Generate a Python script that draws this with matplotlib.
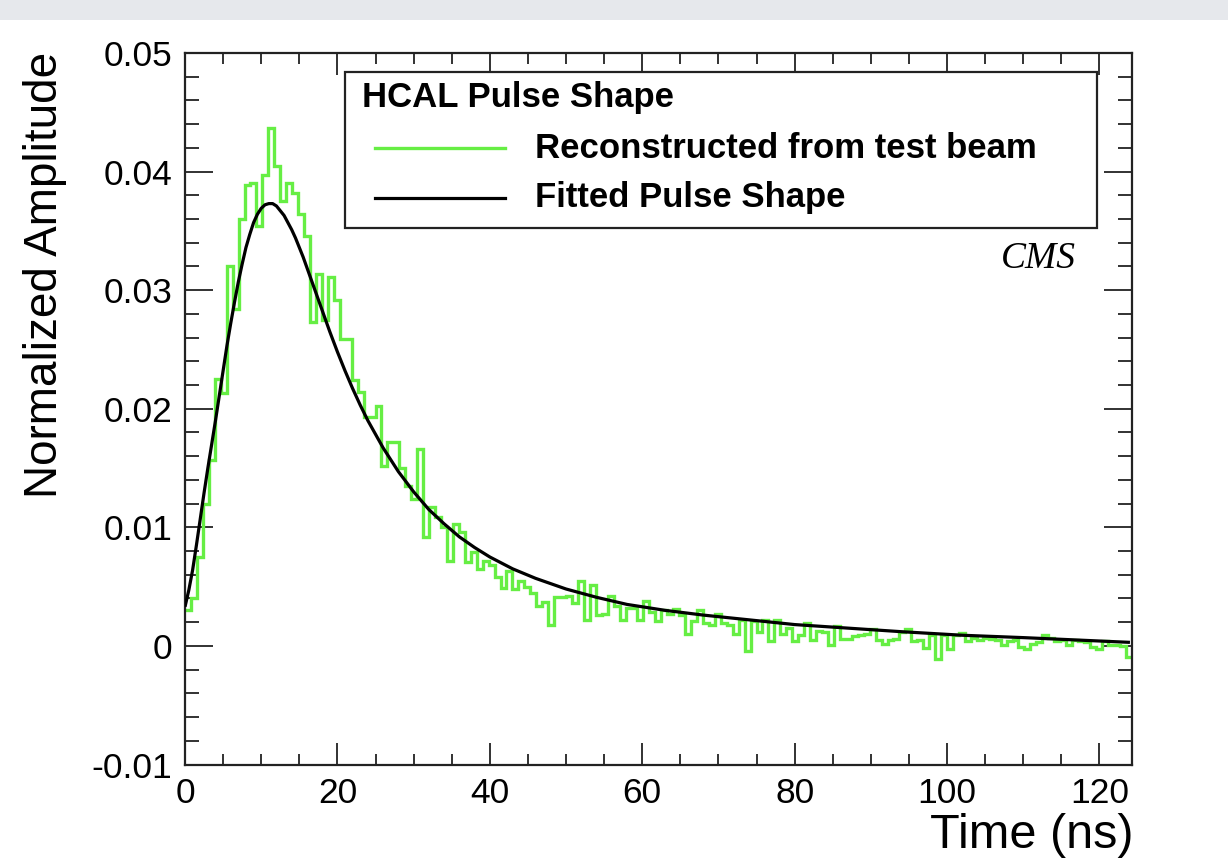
import matplotlib
matplotlib.use("Agg")
import matplotlib.pyplot as plt
import numpy as np
from matplotlib.patches import Rectangle
from matplotlib.lines import Line2D
from matplotlib.ticker import FixedLocator, FixedFormatter, MultipleLocator

# ---------------- data ----------------
BIN_WIDTH = 25.0 / 32.0   # ns

hist_values = [
    0.0030, 0.0040, 0.0075, 0.0120, 0.0157, 0.0225, 0.0213, 0.0320, 0.0284, 0.0360,
    0.0389, 0.0390, 0.0354, 0.0397, 0.0437, 0.0405, 0.0375, 0.0390, 0.0382, 0.0364,
    0.0346, 0.0273, 0.0314, 0.0275, 0.0311, 0.0292, 0.0259, 0.0259, 0.0224, 0.0214,
    0.0193, 0.0193, 0.0202, 0.0152, 0.0172, 0.0172, 0.0150, 0.0135, 0.0124, 0.0166,
    0.0092, 0.0117, 0.0109, 0.0100, 0.0072, 0.0103, 0.0096, 0.0071, 0.0079, 0.0065,
    0.0072, 0.0068, 0.0058, 0.0049, 0.0063, 0.0048, 0.0055, 0.0050, 0.0045, 0.0034,
    0.0037, 0.0018, 0.0041, 0.0041, 0.0042, 0.0036, 0.0055, 0.0022, 0.0051, 0.0026,
    0.0027, 0.0042, 0.0034, 0.0022, 0.0032, 0.0032, 0.0022, 0.0038, 0.0029, 0.0021,
    0.0030, 0.0027, 0.0031, 0.0026, 0.0010, 0.0021, 0.0030, 0.0019, 0.0018, 0.0027,
    0.0019, 0.0018, 0.0010, 0.0022, -0.0004, 0.0021, 0.0012, 0.0022, 0.0004, 0.0022,
    0.0010, 0.0015, 0.0004, 0.0009, 0.0019, 0.0005, 0.0013, 0.0012, 0.0001, 0.0017,
    0.0006, 0.0006, 0.0008, 0.0009, 0.0010, 0.0014, 0.0005, 0.0002, 0.0005, 0.0006,
    0.0012, 0.0014, 0.0004, 0.0005, -0.0002, 0.0009, -0.0011, 0.0009, -0.0003, 0.0009,
    0.0011, 0.0004, 0.0007, 0.0005, 0.0007, 0.0006, 0.0005, 0.0001, 0.0004, 0.0005,
    -0.0001, -0.0003, 0.0002, 0.0003, 0.0009, 0.0007, 0.0004, 0.0005, 0.0001, 0.0005,
    0.0004, 0.0003, -0.0001, -0.0003, 0.0004, 0.0001, 0.0001, 0.0000, -0.0009,
]

fit_t = [0, 0.5, 1, 1.5, 2, 2.5, 3, 3.5, 4, 4.5,
         5, 5.5, 6, 6.5, 7, 7.5, 8, 8.5, 9, 9.5,
         10, 10.5, 11, 11.5, 12, 12.5, 13, 13.5, 14, 14.5,
         15, 15.5, 16, 17, 18, 19, 20, 21, 22, 23,
         24, 26, 28, 30, 32, 34, 36, 38, 40, 43,
         46, 50, 54, 58, 63, 68, 74, 80, 87, 94,
         102, 110, 117, 124]
fit_v = [0.0033, 0.0047, 0.0064, 0.0085, 0.0107, 0.0129, 0.0150, 0.0170, 0.0190, 0.0211,
         0.0232, 0.0253, 0.0272, 0.0290, 0.0307, 0.0322, 0.0336, 0.0347, 0.0357, 0.0364,
         0.0369, 0.0372, 0.0373, 0.0373, 0.0371, 0.0367, 0.0363, 0.0357, 0.0351, 0.0344,
         0.0336, 0.0328, 0.0319, 0.0301, 0.0283, 0.0265, 0.0248, 0.0232, 0.0217, 0.0203,
         0.0190, 0.0167, 0.0147, 0.0130, 0.0115, 0.0103, 0.0092, 0.0083, 0.0075, 0.0065,
         0.0057, 0.0048, 0.0041, 0.0035, 0.0030, 0.0026, 0.0022, 0.0018, 0.0015, 0.0012,
         0.0009, 0.0007, 0.0005, 0.0003]

x_major = [0, 20, 40, 60, 80, 100, 120]
x_labels = ["0", "20", "40", "60", "80", "100", "120"]
y_major = [-0.01, 0.0, 0.01, 0.02, 0.03, 0.04, 0.05]
y_labels = ["-0.01", "0", "0.01", "0.02", "0.03", "0.04", "0.05"]

legend_title = "HCAL Pulse Shape"
label_hist = "Reconstructed from test beam"
label_fit = "Fitted Pulse Shape"
x_title = "Time (ns)"
y_title = "Normalized Amplitude"
tag = "CMS"

GREEN = "#66ee44"
W, H = 1228, 860

# ---------------- figure ----------------
fig = plt.figure(figsize=(W / 100, H / 100), dpi=100)
fig.patches.append(Rectangle((0, 1 - 20 / H), 1, 20 / H, transform=fig.transFigure,
                             facecolor="#e6e8ec", edgecolor="none", zorder=0))

L, R, T, B = 185, 1131.6, 53, 764.5
ax = fig.add_axes([L / W, 1 - B / H, (R - L) / W, (B - T) / H])

n = len(hist_values)
edges = np.arange(n + 1) * BIN_WIDTH
ax.stairs(hist_values, edges, baseline=None, color=GREEN, lw=2.4, zorder=2)
ax.plot(fit_t, fit_v, color="black", lw=2.3, zorder=3, solid_capstyle="butt",
        solid_joinstyle="round")

ax.set_xlim(0, n * BIN_WIDTH)
ax.set_ylim(-0.01, 0.05)

ax.xaxis.set_major_locator(FixedLocator(x_major))
ax.xaxis.set_major_formatter(FixedFormatter(x_labels))
ax.xaxis.set_minor_locator(MultipleLocator(5))
ax.yaxis.set_major_locator(FixedLocator(y_major))
ax.yaxis.set_major_formatter(FixedFormatter(y_labels))
ax.yaxis.set_minor_locator(MultipleLocator(0.002))

ax.tick_params(which="both", direction="in", top=True, right=True,
               width=1.3, color="#222222")
ax.xaxis.set_tick_params(which="major", length=16, pad=9)
ax.xaxis.set_tick_params(which="minor", length=8)
ax.yaxis.set_tick_params(which="major", length=20, pad=9)
ax.yaxis.set_tick_params(which="minor", length=10)
for lab in ax.get_xticklabels() + ax.get_yticklabels():
    lab.set_fontfamily("Liberation Sans")
    lab.set_fontsize(25.5)
for sp in ax.spines.values():
    sp.set_linewidth(1.6)
    sp.set_color("#222222")

# axis titles
fig.text(45 / W, 1 - 275 / H, y_title, rotation=90, ha="center", va="center",
         fontsize=33, family="Liberation Sans")
fig.text(1134 / W, 1 - 835 / H, x_title, ha="right", va="center",
         fontsize=35, family="Liberation Sans")

# CMS tag
fig.text(1076 / W, 1 - 259 / H, tag, ha="right", va="center", fontsize=27,
         family="Liberation Serif", style="italic")

# legend box
lx0, lx1, ly0, ly1 = 345, 1097, 72, 228
fig.patches.append(Rectangle((lx0 / W, 1 - ly1 / H), (lx1 - lx0) / W, (ly1 - ly0) / H,
                             transform=fig.transFigure, facecolor="white",
                             edgecolor="#222222", lw=1.6, zorder=5))
fig.text(362 / W, 1 - 97 / H, legend_title, ha="left", va="center", fontsize=25,
         family="Liberation Sans", weight="bold", zorder=6)
fig.lines.append(Line2D([375 / W, 505 / W], [1 - 148 / H, 1 - 148 / H],
                        transform=fig.transFigure, color=GREEN, lw=2.4, zorder=6))
fig.text(535 / W, 1 - 148 / H, label_hist, ha="left", va="center", fontsize=25,
         family="Liberation Sans", weight="bold", zorder=6)
fig.lines.append(Line2D([375 / W, 505 / W], [1 - 198 / H, 1 - 198 / H],
                        transform=fig.transFigure, color="black", lw=2.3, zorder=6))
fig.text(535 / W, 1 - 198 / H, label_fit, ha="left", va="center", fontsize=25,
         family="Liberation Sans", weight="bold", zorder=6)

fig.savefig("out.png", dpi=100)
